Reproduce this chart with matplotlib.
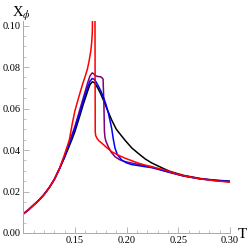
import matplotlib
matplotlib.use("Agg")
import matplotlib.pyplot as plt
from matplotlib.ticker import MultipleLocator

plt.rcParams["mathtext.fontset"] = "stix"

# Common low-temperature branch
T_low = [0.100, 0.105, 0.110, 0.115, 0.120, 0.125, 0.130, 0.135]
X_low = [0.0092, 0.0112, 0.0135, 0.0158, 0.0185, 0.0218, 0.0258, 0.0310]

T_black = [0.140, 0.1468, 0.150, 0.1525, 0.155, 0.1565, 0.158, 0.160, 0.1625, 0.1645,
           0.1667, 0.1685, 0.170, 0.1725, 0.175, 0.1774, 0.181, 0.1855, 0.190, 0.1983,
           0.205, 0.2112, 0.218, 0.2242, 0.2351, 0.2419, 0.255, 0.271, 0.285, 0.300]
X_black = [0.0365, 0.0448, 0.049, 0.053, 0.057, 0.0595, 0.062, 0.065, 0.0688, 0.0715,
           0.0729, 0.0726, 0.0716, 0.0695, 0.0670, 0.0642, 0.0598, 0.0545, 0.0500, 0.0448,
           0.0410, 0.0384, 0.0357, 0.0338, 0.0312, 0.0297, 0.0278, 0.0263, 0.0255, 0.0250]

T_blue = [0.140, 0.1458, 0.150, 0.155, 0.160, 0.1625, 0.1645, 0.1667, 0.1685, 0.170,
          0.1725, 0.175, 0.1774, 0.180, 0.1822, 0.184, 0.1855, 0.187, 0.1887, 0.191,
          0.1952, 0.200, 0.2048, 0.215, 0.2242, 0.2419, 0.255, 0.271, 0.285, 0.300]
X_blue = [0.0370, 0.0448, 0.0505, 0.0585, 0.0668, 0.0706, 0.0732, 0.0745, 0.0741, 0.0732,
          0.0710, 0.0685, 0.0657, 0.0620, 0.0580, 0.0540, 0.0505, 0.0455, 0.0410, 0.0378,
          0.0352, 0.0338, 0.0330, 0.0322, 0.0315, 0.0292, 0.0275, 0.0261, 0.0254, 0.0248]

T_purple = [0.140, 0.1452, 0.150, 0.155, 0.160, 0.1625, 0.1645, 0.1667, 0.168, 0.170,
            0.1725, 0.1745, 0.1758, 0.1772, 0.1780, 0.1785, 0.1790, 0.180, 0.1822, 0.185,
            0.1887, 0.193, 0.1983, 0.210, 0.2242, 0.2419, 0.255, 0.271, 0.285, 0.300]
X_purple = [0.0372, 0.0448, 0.0515, 0.0600, 0.0685, 0.0728, 0.0757, 0.0772, 0.0768, 0.0758,
            0.0754, 0.0754, 0.0750, 0.0742, 0.0620, 0.0490, 0.0462, 0.0442, 0.0416, 0.0390,
            0.0368, 0.0354, 0.0344, 0.0332, 0.0320, 0.0292, 0.0275, 0.0261, 0.0253, 0.0247]

T_red = [0.140, 0.1445, 0.1475, 0.150, 0.1525, 0.155, 0.1575, 0.160, 0.162, 0.1635,
         0.1652, 0.1662, 0.1668, 0.1673, 0.1693, 0.1696, 0.170, 0.1715, 0.1735, 0.1758,
         0.180, 0.1855, 0.1920, 0.1983, 0.2112, 0.2242, 0.237, 0.2419, 0.255, 0.271,
         0.285, 0.300]
X_red = [0.0380, 0.0448, 0.0530, 0.0590, 0.0635, 0.0678, 0.0720, 0.0757, 0.0790, 0.0825,
         0.0874, 0.0920, 0.0970, 0.1200, 0.1200, 0.0490, 0.0470, 0.0455, 0.0443, 0.0434,
         0.0415, 0.0392, 0.0375, 0.0361, 0.0337, 0.0318, 0.0304, 0.0295, 0.0276, 0.0262,
         0.0252, 0.0245]

x_ticks = [0.15, 0.20, 0.25, 0.30]
y_ticks = [0.00, 0.02, 0.04, 0.06, 0.08, 0.10]

fig = plt.figure(figsize=(2.49, 2.48), dpi=100)
ax = fig.add_axes([0.0936, 0.0605, 0.830, 0.853])

series = [(T_black, X_black, "black"), (T_purple, X_purple, "#800080"),
          (T_blue, X_blue, "#0000ff"), (T_red, X_red, "#ff0000")]
for T, X, c in series:
    ax.plot(T_low + T, X_low + X, color=c, lw=1.1, solid_joinstyle="round")

ax.set_xlim(0.10, 0.30)
ax.set_ylim(0.0, 0.102)
ax.set_xticks(x_ticks)
ax.set_yticks(y_ticks)
ax.xaxis.set_minor_locator(MultipleLocator(0.01))
ax.yaxis.set_minor_locator(MultipleLocator(0.005))
ax.set_xticklabels(["%.2f" % v for v in x_ticks], family="Liberation Serif", fontsize=7.5)
ax.set_yticklabels(["%.2f" % v for v in y_ticks], family="Liberation Serif", fontsize=7.5)
ax.tick_params(which="both", direction="in", color="#aaaaaa", pad=2)
ax.tick_params(which="major", length=4, width=0.6)
ax.tick_params(which="minor", length=2, width=0.5)
for s in ["top", "right"]:
    ax.spines[s].set_visible(False)
for s in ["left", "bottom"]:
    ax.spines[s].set_color("#aaaaaa")
    ax.spines[s].set_linewidth(0.7)

fig.text(0.048, 0.945, r"X$_\phi$", family="Liberation Serif", fontsize=10.5,
         ha="left", va="center")
fig.text(0.975, 0.055, "T", family="Liberation Serif", fontsize=11,
         ha="center", va="center")

fig.savefig("out.png", dpi=100)
